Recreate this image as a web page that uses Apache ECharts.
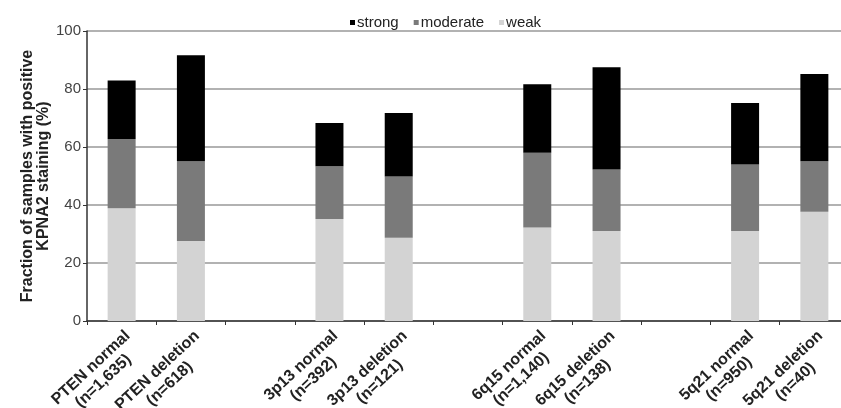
<!DOCTYPE html>
<html>
<head>
<meta charset="utf-8">
<script src="https://cdn.jsdelivr.net/npm/echarts@6/dist/echarts.min.js"></script>
<style>
html,body{margin:0;padding:0;background:#fff;}
#chart{width:841px;height:408px;}
</style>
</head>
<body>
<div id="chart"></div>
<script>
const categories = ['PTEN normal\n(n=1,635)', 'PTEN deletion\n(n=618)', '', '3p13 normal\n(n=392)', '3p13 deletion\n(n=121)', '', '6q15 normal\n(n=1,140)', '6q15 deletion\n(n=138)', '', '5q21 normal\n(n=950)', '5q21 deletion\n(n=40)'];
const weak = [38.9, 27.6, null, 35.2, 28.7, null, 32.2, 31.0, null, 31.0, 37.7];
const moderate = [23.9, 27.5, null, 18.2, 21.1, null, 25.8, 21.2, null, 23.0, 17.4];
const strong = [20.1, 36.5, null, 14.9, 21.9, null, 23.6, 35.3, null, 21.2, 30.1];
const yTicks = [0, 20, 40, 60, 80, 100];

const chart = echarts.init(document.getElementById('chart'), null, {renderer: 'canvas'});
const font = 'Liberation Sans, Arial, sans-serif';
chart.setOption({
  animation: false,
  backgroundColor: '#fff',
  textStyle: {fontFamily: font},
  legend: {
    data: ['strong', 'moderate', 'weak'],
    top: 10,
    left: 345,
    icon: 'rect',
    itemWidth: 5,
    itemHeight: 5,
    itemGap: 15,
    textStyle: {fontSize: 15, color: '#222', fontFamily: font, padding: [0, 0, 0, -3]}
  },
  grid: {left: 87, top: 31, bottom: 87, width: 762, containLabel: false, outerBoundsMode: 'none'},
  xAxis: {
    type: 'category',
    data: categories,
    axisLine: {lineStyle: {color: '#333', width: 1.5}},
    axisTick: {show: true, interval: 0, length: 4, lineStyle: {color: '#333'}},
    axisLabel: {
      interval: 0,
      rotate: 43,
      margin: 6,
      align: 'right',
      verticalAlign: 'top',
      formatter: function (v) {
        return v ? v.split('\n').map(s => '{a|' + s + '}').join('\n') : '';
      },
      rich: {
        a: {fontSize: 16, fontWeight: 'bold', color: '#222', align: 'center', lineHeight: 18, fontFamily: font}
      }
    }
  },
  yAxis: {
    type: 'value',
    min: yTicks[0],
    max: yTicks[yTicks.length - 1],
    interval: 20,
    name: 'Fraction of samples with positive\nKPNA2 staining (%)',
    nameLocation: 'middle',
    nameGap: 35,
    nameMoveOverlap: false,
    nameTextStyle: {fontSize: 16, fontWeight: 'bold', color: '#222', lineHeight: 16, fontFamily: font},
    axisLine: {show: true, lineStyle: {color: '#333', width: 1.5}},
    axisTick: {show: true, length: 4, lineStyle: {color: '#333'}},
    axisLabel: {fontSize: 15, color: '#444', margin: 6, fontFamily: font},
    splitLine: {lineStyle: {color: '#999', width: 1.5}}
  },
  series: [
    {name: 'weak', type: 'bar', stack: 'a', data: weak, barWidth: 28, itemStyle: {color: '#d3d3d3'}},
    {name: 'moderate', type: 'bar', stack: 'a', data: moderate, barWidth: 28, itemStyle: {color: '#7a7a7a'}},
    {name: 'strong', type: 'bar', stack: 'a', data: strong, barWidth: 28, itemStyle: {color: '#000'}}
  ]
});
</script>
</body>
</html>
